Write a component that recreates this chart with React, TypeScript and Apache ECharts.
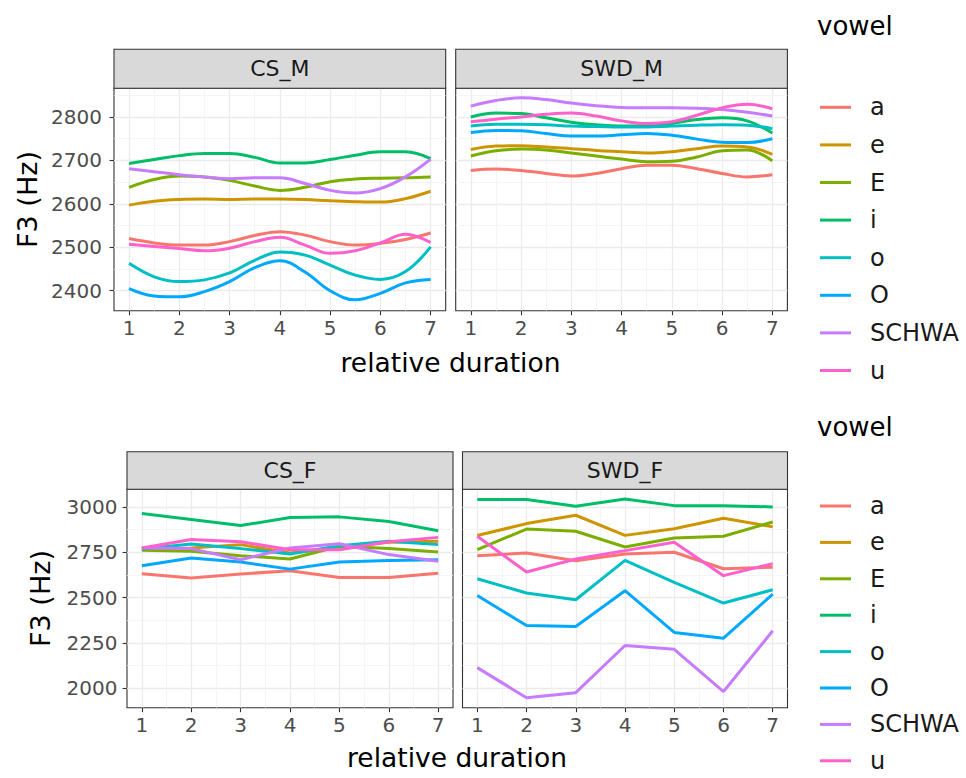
import React, { useEffect, useRef } from "react";
import * as echarts from "echarts";

const vowels = ["a", "e", "E", "i", "o", "O", "SCHWA", "u"];
const vowelColors = ["#F8766D", "#CD9600", "#7CAE00", "#00BE67", "#00BFC4", "#00A9FF", "#C77CFF", "#FF61CC"];
const panelNames = ["CS_M", "SWD_M", "CS_F", "SWD_F"];

const xSmooth = [1, 1.5, 2, 2.5, 3, 3.5, 4, 4.5, 5, 5.5, 6, 6.5, 7];
const xSteps = [1, 2, 3, 4, 5, 6, 7];
const xTicks = [1, 2, 3, 4, 5, 6, 7];
const xMinor = [1.5, 2.5, 3.5, 4.5, 5.5, 6.5];
const yTicksM = [2400, 2500, 2600, 2700, 2800];
const yMinorM = [2450, 2550, 2650, 2750, 2850];
const yTicksF = [2000, 2250, 2500, 2750, 3000];
const yMinorF = [2125, 2375, 2625, 2875];

// order: a, e, E, i, o, O, SCHWA, u
const csM: number[][] = [
  [2520, 2510, 2505, 2505, 2513, 2527, 2536, 2528, 2513, 2505, 2509, 2518, 2533],
  [2597, 2606, 2610, 2611, 2610, 2611, 2611, 2610, 2607, 2605, 2604, 2612, 2629],
  [2638, 2656, 2664, 2662, 2654, 2641, 2631, 2638, 2651, 2657, 2659, 2660, 2662],
  [2693, 2702, 2711, 2716, 2716, 2707, 2694, 2694, 2702, 2712, 2720, 2720, 2704],
  [2463, 2432, 2421, 2425, 2441, 2470, 2489, 2482, 2459, 2436, 2426, 2444, 2501],
  [2405, 2388, 2386, 2398, 2421, 2453, 2469, 2443, 2400, 2379, 2394, 2418, 2426],
  [2681, 2674, 2667, 2662, 2658, 2660, 2660, 2647, 2631, 2625, 2635, 2662, 2703],
  [2507, 2502, 2497, 2492, 2498, 2513, 2523, 2505, 2486, 2492, 2510, 2530, 2511],
];
const swdM: number[][] = [
  [2677, 2680, 2677, 2670, 2664, 2670, 2681, 2689, 2689, 2681, 2670, 2662, 2667],
  [2725, 2733, 2734, 2731, 2727, 2723, 2720, 2717, 2720, 2727, 2733, 2731, 2714],
  [2710, 2722, 2726, 2724, 2717, 2710, 2703, 2697, 2698, 2708, 2722, 2724, 2699],
  [2800, 2809, 2808, 2798, 2788, 2782, 2779, 2779, 2785, 2794, 2798, 2791, 2763],
  [2779, 2783, 2783, 2782, 2779, 2778, 2777, 2777, 2779, 2781, 2782, 2781, 2773],
  [2764, 2769, 2768, 2762, 2756, 2756, 2759, 2762, 2758, 2749, 2742, 2741, 2750],
  [2825, 2838, 2844, 2840, 2832, 2826, 2822, 2821, 2821, 2820, 2817, 2811, 2802],
  [2789, 2795, 2800, 2806, 2809, 2802, 2791, 2785, 2789, 2804, 2821, 2829, 2819],
];
const csF: number[][] = [
  [2632, 2608, 2630, 2648, 2611, 2611, 2634],
  [2768, 2773, 2792, 2746, 2777, 2805, 2810],
  [2761, 2755, 2731, 2713, 2783, 2770, 2751],
  [2963, 2930, 2897, 2941, 2945, 2919, 2869],
  [2768, 2796, 2770, 2740, 2786, 2810, 2792],
  [2676, 2718, 2696, 2657, 2696, 2705, 2709],
  [2773, 2770, 2709, 2773, 2797, 2737, 2700],
  [2773, 2820, 2808, 2764, 2764, 2808, 2832],
];
const swdF: number[][] = [
  [2731, 2746, 2703, 2740, 2750, 2659, 2667],
  [2842, 2908, 2954, 2843, 2880, 2937, 2890],
  [2764, 2878, 2866, 2779, 2829, 2838, 2917],
  [3041, 3041, 3004, 3044, 3007, 3007, 3000],
  [2604, 2525, 2488, 2705, 2584, 2470, 2543],
  [2512, 2346, 2341, 2538, 2308, 2276, 2519],
  [2114, 1948, 1976, 2236, 2215, 1982, 2317],
  [2838, 2641, 2713, 2759, 2805, 2621, 2687],
];

const FONT = "DejaVu Sans";

export default function App() {
  const ref = useRef<HTMLDivElement>(null);

  useEffect(() => {
    if (!ref.current) return;
    const chart = echarts.init(ref.current, undefined, { renderer: "svg" });

    const grids = [
      { left: 114, top: 88.3, width: 331.7, height: 222.4 },
      { left: 455.7, top: 88.3, width: 331.7, height: 222.4 },
      { left: 127, top: 489.3, width: 326, height: 218.4 },
      { left: 462.5, top: 489.3, width: 325, height: 218.4 },
    ];
    const panelData = [csM, swdM, csF, swdF];
    const yRanges = [
      [2354, 2866],
      [2354, 2866],
      [1893, 3097],
      [1893, 3097],
    ];
    const yTickSets = [yTicksM, yTicksM, yTicksF, yTicksF];
    const yMinorSets = [yMinorM, yMinorM, yMinorF, yMinorF];
    const xs = [xSmooth, xSmooth, xSteps, xSteps];
    const plain = (v: number) => String(v);

    const xAxes: any[] = [];
    const yAxes: any[] = [];
    grids.forEach((g, gi) => {
      const showY = gi % 2 === 0;
      xAxes.push({
        type: "value",
        gridIndex: gi,
        min: 0.7,
        max: 7.3,
        axisLine: { show: false },
        axisTick: { show: true, length: 4.5, customValues: xTicks, lineStyle: { color: "#333333", width: 1.1 } },
        axisLabel: {
          show: true,
          customValues: xTicks,
          formatter: plain,
          margin: 7,
          color: "#4D4D4D",
          fontSize: 20,
          fontFamily: FONT,
        },
        splitLine: { show: true, lineStyle: { color: "#EBEBEB", width: 1.3 } },
      });
      xAxes.push({
        type: "value",
        gridIndex: gi,
        min: 0.7,
        max: 7.3,
        axisLine: { show: false },
        axisTick: { show: false, customValues: xMinor },
        axisLabel: { show: false, customValues: xMinor },
        splitLine: { show: true, lineStyle: { color: "#F0F0F0", width: 0.7 } },
      });
      yAxes.push({
        type: "value",
        gridIndex: gi,
        min: yRanges[gi][0],
        max: yRanges[gi][1],
        axisLine: { show: false },
        axisTick: { show: showY, length: 4.5, customValues: yTickSets[gi], lineStyle: { color: "#333333", width: 1.1 } },
        axisLabel: {
          show: showY,
          customValues: yTickSets[gi],
          formatter: plain,
          margin: gi === 0 ? 12 : 9.5,
          color: "#4D4D4D",
          fontSize: 20,
          fontFamily: FONT,
        },
        splitLine: { show: true, lineStyle: { color: "#EBEBEB", width: 1.3 } },
      });
      yAxes.push({
        type: "value",
        gridIndex: gi,
        position: "left",
        min: yRanges[gi][0],
        max: yRanges[gi][1],
        axisLine: { show: false },
        axisTick: { show: false, customValues: yMinorSets[gi] },
        axisLabel: { show: false, customValues: yMinorSets[gi] },
        splitLine: { show: true, lineStyle: { color: "#F0F0F0", width: 0.7 } },
      });
    });

    const series: any[] = [];
    panelData.forEach((pd, gi) => {
      pd.forEach((vals, vi) => {
        series.push({
          type: "line",
          name: vowels[vi],
          xAxisIndex: gi * 2,
          yAxisIndex: gi * 2,
          data: xs[gi].map((x, i) => [x, vals[i]]),
          smooth: gi < 2 ? 0.4 : false,
          showSymbol: false,
          symbol: "none",
          lineStyle: { color: vowelColors[vi], width: 3 },
          itemStyle: { color: vowelColors[vi] },
          emphasis: { disabled: true },
          z: 3,
        });
      });
    });

    const strips: any[] = [];
    const stripRows = [
      { y: 49.3, h: 39 },
      { y: 451.7, h: 37.6 },
    ];
    grids.forEach((g, gi) => {
      const row = stripRows[gi < 2 ? 0 : 1];
      strips.push({
        type: "rect",
        shape: { x: g.left, y: row.y, width: g.width, height: row.h },
        style: { fill: "#D9D9D9", stroke: "#333333", lineWidth: 1.1 },
        z: 10,
      });
      strips.push({
        type: "text",
        x: g.left + g.width / 2,
        y: row.y + row.h / 2,
        style: {
          text: panelNames[gi],
          fill: "#1A1A1A",
          font: `22px '${FONT}'`,
          align: "center",
          verticalAlign: "middle",
          textAlign: "center",
          textVerticalAlign: "middle",
        },
        z: 11,
      });
    });

    const textEl = (text: string, x: number, y: number, size: number, rot = 0, align = "center") => ({
      type: "text",
      x,
      y,
      rotation: rot,
      style: {
        text,
        fill: "#000000",
        font: `${size}px '${FONT}'`,
        align,
        verticalAlign: "middle",
        textAlign: align,
        textVerticalAlign: "middle",
      },
      z: 11,
    });

    const legendBase = {
      data: vowels,
      orient: "vertical",
      left: 820,
      padding: 0,
      height: 320,
      icon: "rect",
      itemWidth: 31,
      itemHeight: 3,
      selectedMode: false,
      textStyle: {
        fontSize: 24,
        fontFamily: FONT,
        color: "#1A1A1A",
        padding: [0, 0, 0, 14],
      },
    };

    chart.setOption({
      animation: false,
      backgroundColor: "#FFFFFF",
      grid: grids.map((g) => ({
        ...g,
        show: true,
        backgroundColor: "#FFFFFF",
        borderColor: "#333333",
        borderWidth: 1.1,
        containLabel: false,
      })),
      xAxis: xAxes,
      yAxis: yAxes,
      legend: [
        { ...legendBase, top: 95.3, itemGap: 13.6 },
        { ...legendBase, top: 494, itemGap: 12.4 },
      ],
      graphic: [
        ...strips,
        textEl("relative duration", 450.5, 362, 26.5),
        textEl("relative duration", 457, 757, 26.5),
        textEl("F3 (Hz)", 27, 199.5, 27, Math.PI / 2),
        textEl("F3 (Hz)", 40, 598.5, 27, Math.PI / 2),
        textEl("vowel", 817, 26, 26, 0, "left"),
        textEl("vowel", 817, 427, 26, 0, "left"),
      ],
      series,
    });

    return () => chart.dispose();
  }, []);

  return (
    <div
      ref={ref}
      style={{ position: "absolute", left: 0, top: 0, width: 966, height: 778 }}
    />
  );
}
